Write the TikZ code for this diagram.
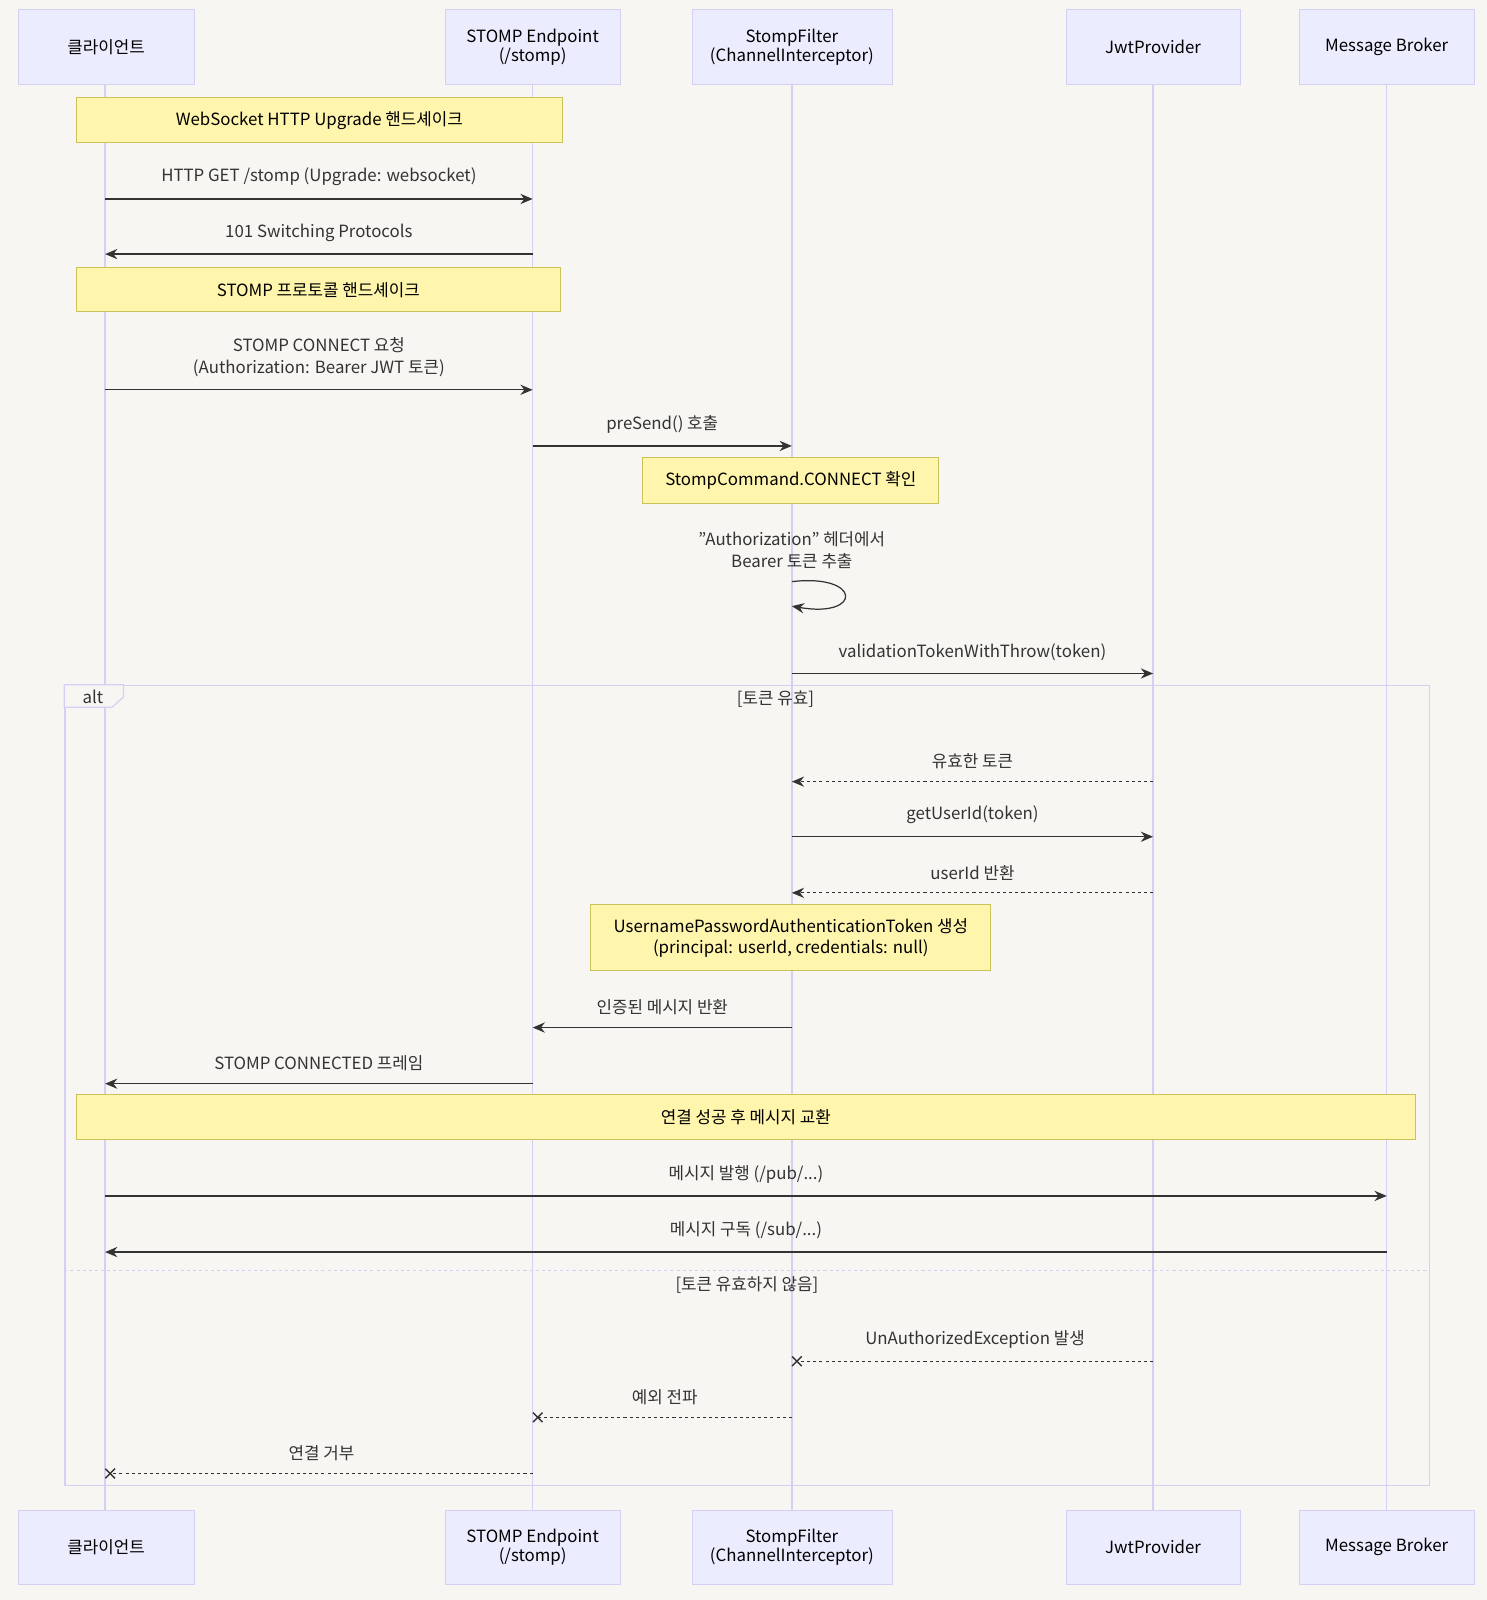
\documentclass[tikz,border=0pt]{standalone}
\usepackage{fontspec}
\setmainfont{Noto Sans CJK KR}
\usetikzlibrary{arrows.meta,shapes.misc}
\definecolor{bg}{HTML}{F7F6F3}
\definecolor{actf}{HTML}{ECECFF}
\definecolor{actd}{HTML}{D4CFF3}
\definecolor{notef}{HTML}{FFF5AD}
\definecolor{noted}{HTML}{C8C45A}
\definecolor{ln}{HTML}{333333}
\tikzset{
 actor/.style={draw=actd,fill=actf,minimum height=73pt,font=\fontsize{16.5}{17}\selectfont,align=center,inner sep=0},
 note/.style={draw=noted,line width=1pt,fill=notef,font=\fontsize{16.5}{21}\selectfont,align=center,inner sep=0},
 msg/.style={draw=ln,line width=1.2pt,-{Stealth[length=12pt,width=10pt]}},
 dmsg/.style={msg,dashed},
 xmsg/.style={draw=ln,line width=1.2pt,dashed},
 lbl/.style={font=\fontsize{16.5}{22}\selectfont,align=center,text=ln},
 life/.style={draw=actd,line width=1.4pt},
 xend/.style={cross out,draw=ln,line width=1.4pt,minimum size=8pt,inner sep=0}
}
\begin{document}
\begin{tikzpicture}[x=1pt,y=-1pt]
\fill[bg] (0,0) rectangle (1457,1568);
\useasboundingbox (0,0) rectangle (1457,1568);
% lifelines
\foreach \x/\n in {103/c,522/s,776/f,1130/j,1359/b}{
 \coordinate (\n t) at (\x,83); \coordinate (\n b) at (\x,1480);
 \draw[life] (\n t) -- (\n b);}
% alt frame
\node[draw=actd,line width=1.2pt,minimum width=1337pt,minimum height=784pt,inner sep=0,anchor=north west] (alt) at (63,671) {};
\coordinate (t1) at (63,671); \coordinate (t2) at (121,671); \coordinate (t3) at (121,683); \coordinate (t4) at (110,693); \coordinate (t5) at (63,693);
\draw[actd,line width=1.2pt,fill=bg] (t1) -- (t2) -- (t3) -- (t4) -- (t5) -- cycle;
\node[font=\fontsize{16.5}{17}\selectfont,text=ln] (alttag) at (91,683) {alt};
\node[lbl] (c1) at (760,685) {[토큰 유효]};
\coordinate (sepL) at (63,1245); \coordinate (sepR) at (1400,1245);
\draw[actd,line width=1.2pt,dashed] (sepL) -- (sepR);
\node[lbl] (c2) at (732,1259) {[토큰 유효하지 않음]};
% actors
\foreach \x/\w/\t/\n in {104/172/클라이언트/c,522/171/{STOMP Endpoint\\(/stomp)}/s,776/196/{StompFilter\\(ChannelInterceptor)}/f,1130/171/JwtProvider/j,1359/171/Message Broker/b}{
 \node[actor,minimum width=\w pt] (\n top) at (\x,46) {\t};
 \node[actor,minimum width=\w pt] (\n bot) at (\x,1516) {\t};}
% notes
\node[note,minimum width=477pt,minimum height=44pt] (n1) at (313,118) {WebSocket HTTP Upgrade 핸드셰이크};
\node[note,minimum width=475pt,minimum height=43pt] (n2) at (312,284) {STOMP 프로토콜 핸드셰이크};
\node[note,minimum width=290pt,minimum height=45pt] (n3) at (775,471) {StompCommand.CONNECT 확인};
\node[note,minimum width=392pt,minimum height=65pt] (n4) at (775,919) {UsernamePasswordAuthenticationToken 생성\\(principal: userId, credentials: null)};
\node[note,minimum width=1313pt,minimum height=44pt] (n5) at (731,1095) {연결 성공 후 메시지 교환};
% messages
\newcommand{\M}[6]{\coordinate (#1a) at (#2,#4); \coordinate (#1b) at (#3,#4);
 \draw[#5] (#1a) -- (#1b); \node[lbl,anchor=south] (#1l) at ({(#2+#3)/2},#4-9) {#6};}
\M{m1}{103}{522}{195}{msg}{HTTP GET /stomp (Upgrade: websocket)}
\M{m2}{522}{103}{249}{msg}{101 Switching Protocols}
\M{m3}{103}{522}{382}{msg}{STOMP CONNECT 요청\\(Authorization: Bearer JWT 토큰)}
\M{m4}{522}{776}{437}{msg}{preSend() 호출}
\coordinate (sl1) at (776,570); \coordinate (sl2) at (776,594);
\draw[msg] (sl1) .. controls (845,562) and (845,606) .. (sl2);
\node[lbl,anchor=south] (sll) at (776,561) {{\char34}Authorization{\char34} 헤더에서\\Bearer 토큰 추출};
\M{m5}{776}{1130}{660}{msg}{validationTokenWithThrow(token)}
\M{m6}{1130}{776}{766}{dmsg}{유효한 토큰}
\M{m7}{776}{1130}{820}{msg}{getUserId(token)}
\M{m8}{1130}{776}{875}{dmsg}{userId 반환}
\M{m9}{776}{522}{1007}{msg}{인증된 메시지 반환}
\M{m10}{522}{103}{1062}{msg}{STOMP CONNECTED 프레임}
\M{m11}{103}{1359}{1172}{msg}{메시지 발행 (/pub/...)}
\M{m12}{1359}{103}{1227}{msg}{메시지 구독 (/sub/...)}
\M{m13}{1130}{781}{1334}{xmsg}{UnAuthorizedException 발생}
\M{m14}{776}{527}{1389}{xmsg}{예외 전파}
\M{m15}{522}{108}{1444}{xmsg}{연결 거부}
\node[xend] (x1) at (m13b) {};
\node[xend] (x2) at (m14b) {};
\node[xend] (x3) at (m15b) {};
\end{tikzpicture}
\end{document}
